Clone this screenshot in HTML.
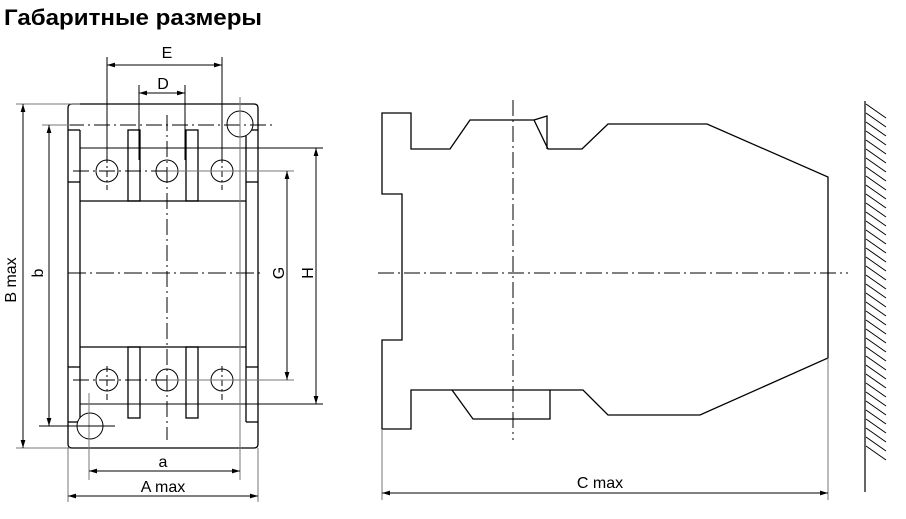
<!DOCTYPE html>
<html><head><meta charset="utf-8"><style>
html,body{margin:0;padding:0;background:#fff;}
svg{display:block;}
text{font-family:"Liberation Sans","DejaVu Sans",sans-serif;fill:#000;}
</style></head><body>
<svg width="906" height="519" viewBox="0 0 906 519" xmlns="http://www.w3.org/2000/svg">
<defs>
<marker id="ar" viewBox="0 0 10 6" refX="10" refY="3" markerWidth="8" markerHeight="5" orient="auto-start-reverse" markerUnits="userSpaceOnUse"><path d="M0,0 L10,3 L0,6 z" fill="#000"/></marker>
</defs>
<text x="4" y="25" font-size="22" font-weight="bold" textLength="258" lengthAdjust="spacingAndGlyphs">Габаритные размеры</text>

<g fill="none" stroke="#000" stroke-width="1.3">
<path d="M72,104 H254 Q258,104 258,108 V444 Q258,448 254,448 H72 Q68,448 68,444 V108 Q68,104 72,104 Z"/>
<line x1="68" y1="130" x2="80" y2="130"/>
<line x1="80" y1="130" x2="80" y2="422"/>
<line x1="68" y1="182" x2="80" y2="182"/>
<line x1="68" y1="367" x2="80" y2="367"/>
<line x1="68" y1="422" x2="78" y2="422"/>
<line x1="246" y1="130" x2="258" y2="130"/>
<line x1="246" y1="130" x2="246" y2="422"/>
<line x1="246" y1="182" x2="258" y2="182"/>
<line x1="246" y1="367" x2="258" y2="367"/>
<line x1="246" y1="422" x2="258" y2="422"/>
<line x1="80" y1="148" x2="323" y2="148" stroke-width="1"/>
<line x1="80" y1="201" x2="246" y2="201"/>
<line x1="80" y1="347" x2="246" y2="347"/>
<line x1="80" y1="404" x2="323" y2="404" stroke-width="1"/>
<rect x="128" y="130" width="12" height="71"/>
<rect x="186" y="130" width="12" height="71"/>
<rect x="128" y="347" width="12" height="71"/>
<rect x="186" y="347" width="12" height="71"/>
<circle cx="107" cy="171" r="11" stroke-width="1"/>
<circle cx="167" cy="171" r="11" stroke-width="1"/>
<circle cx="222" cy="171" r="11" stroke-width="1"/>
<circle cx="107" cy="380" r="11" stroke-width="1"/>
<circle cx="167" cy="380" r="11" stroke-width="1"/>
<circle cx="222" cy="380" r="11" stroke-width="1"/>
<circle cx="240" cy="124" r="13" fill="#fff" stroke-width="1"/>
<circle cx="90" cy="426" r="13" fill="#fff" stroke-width="1"/>
</g>

<g stroke="#000" stroke-width="1" fill="none">
<line x1="42" y1="125" x2="272" y2="125" stroke-dasharray="16,4,2,4"/>
<line x1="68" y1="273" x2="262" y2="273" stroke-dasharray="18,4,2,4"/>
<line x1="167" y1="115" x2="167" y2="440" stroke-dasharray="16,4,2,4"/>
<line x1="73" y1="171" x2="167" y2="171" stroke-dasharray="16,4,2,4"/>
<line x1="73" y1="380" x2="167" y2="380" stroke-dasharray="16,4,2,4"/>
<line x1="107" y1="157" x2="107" y2="190" stroke-dasharray="6,3,2,3"/>
<line x1="222" y1="157" x2="222" y2="190" stroke-dasharray="6,3,2,3"/>
<line x1="107" y1="366" x2="107" y2="400" stroke-dasharray="6,3,2,3"/>
<line x1="222" y1="366" x2="222" y2="400" stroke-dasharray="6,3,2,3"/>
<line x1="240" y1="97" x2="240" y2="480" stroke="#777"/>
<line x1="89" y1="393" x2="89" y2="480" stroke="#777"/>
<line x1="16" y1="104" x2="80" y2="104" stroke="#777"/>
<line x1="16" y1="448" x2="70" y2="448" stroke="#777"/>
<line x1="42" y1="125" x2="70" y2="125" stroke="#777"/>
<line x1="39" y1="426" x2="115" y2="426"/>
<line x1="68" y1="448" x2="68" y2="502" stroke="#777"/>
<line x1="258" y1="448" x2="258" y2="502" stroke="#777"/>
<line x1="167" y1="171" x2="294" y2="171" stroke="#777"/>
<line x1="167" y1="380" x2="294" y2="380" stroke="#777"/>
<line x1="107" y1="57" x2="107" y2="160"/>
<line x1="222" y1="57" x2="222" y2="160"/>
<line x1="139" y1="85" x2="139" y2="160"/>
<line x1="185" y1="85" x2="185" y2="160"/>
<line x1="107" y1="65" x2="222" y2="65" marker-start="url(#ar)" marker-end="url(#ar)"/>
<line x1="139" y1="93" x2="185" y2="93" marker-start="url(#ar)" marker-end="url(#ar)"/>
<line x1="23" y1="104" x2="23" y2="448" marker-start="url(#ar)" marker-end="url(#ar)"/>
<line x1="49" y1="125" x2="49" y2="426" marker-start="url(#ar)" marker-end="url(#ar)"/>
<line x1="287" y1="171" x2="287" y2="380" marker-start="url(#ar)" marker-end="url(#ar)"/>
<line x1="316" y1="148" x2="316" y2="404" marker-start="url(#ar)" marker-end="url(#ar)"/>
<line x1="89" y1="471" x2="240" y2="471" marker-start="url(#ar)" marker-end="url(#ar)"/>
<line x1="68" y1="496" x2="258" y2="496" marker-start="url(#ar)" marker-end="url(#ar)"/>
</g>

<text x="167" y="58" font-size="16" text-anchor="middle">E</text>
<text x="163" y="89" font-size="16" text-anchor="middle">D</text>
<text x="163" y="467" font-size="16" text-anchor="middle">a</text>
<text x="163" y="492" font-size="16" text-anchor="middle">A max</text>
<text transform="translate(16,280) rotate(-90)" font-size="16" text-anchor="middle">B max</text>
<text transform="translate(43,273) rotate(-90)" font-size="16" text-anchor="middle">b</text>
<text transform="translate(284,273) rotate(-90)" font-size="16" text-anchor="middle">G</text>
<text transform="translate(313,273) rotate(-90)" font-size="16" text-anchor="middle">H</text>

<g fill="none" stroke="#000" stroke-width="1.3">
<path d="M382,113 H411 V149 H450 L470,120 H534 L548,149 H582 L608,124 H707 L828,177 V358 L700,415 H608 L583,390 H411 V429 H382 V340 H402 V194 H382 Z"/>
<path d="M534,120 L547,116 V149"/>
<path d="M452,390 L473,419 H550 V390"/>
</g>
<g stroke="#000" stroke-width="1" fill="none">
<line x1="378" y1="273" x2="848" y2="273" stroke-dasharray="16,4,2,4"/>
<line x1="513" y1="100" x2="513" y2="440" stroke-dasharray="16,4,2,4"/>
<line x1="382" y1="429" x2="382" y2="500" stroke="#777"/>
<line x1="828" y1="358" x2="828" y2="500" stroke="#777"/>
<line x1="382" y1="493" x2="828" y2="493" marker-start="url(#ar)" marker-end="url(#ar)"/>
<line x1="865" y1="101" x2="865" y2="492" stroke-width="1.2"/>
<path d="M866,104 l20,14 M866,113 l20,14 M866,122 l20,14 M866,131 l20,14 M866,140 l20,14 M866,149 l20,14 M866,158 l20,14 M866,167 l20,14 M866,176 l20,14 M866,185 l20,14 M866,194 l20,14 M866,203 l20,14 M866,212 l20,14 M866,221 l20,14 M866,230 l20,14 M866,239 l20,14 M866,248 l20,14 M866,257 l20,14 M866,266 l20,14 M866,275 l20,14 M866,284 l20,14 M866,293 l20,14 M866,302 l20,14 M866,311 l20,14 M866,320 l20,14 M866,329 l20,14 M866,338 l20,14 M866,347 l20,14 M866,356 l20,14 M866,365 l20,14 M866,374 l20,14 M866,383 l20,14 M866,392 l20,14 M866,401 l20,14 M866,410 l20,14 M866,419 l20,14 M866,428 l20,14 M866,437 l20,14 M866,446 l20,14"/>
</g>
<text x="600" y="488" font-size="16" text-anchor="middle">C max</text>
</svg>
</body></html>
